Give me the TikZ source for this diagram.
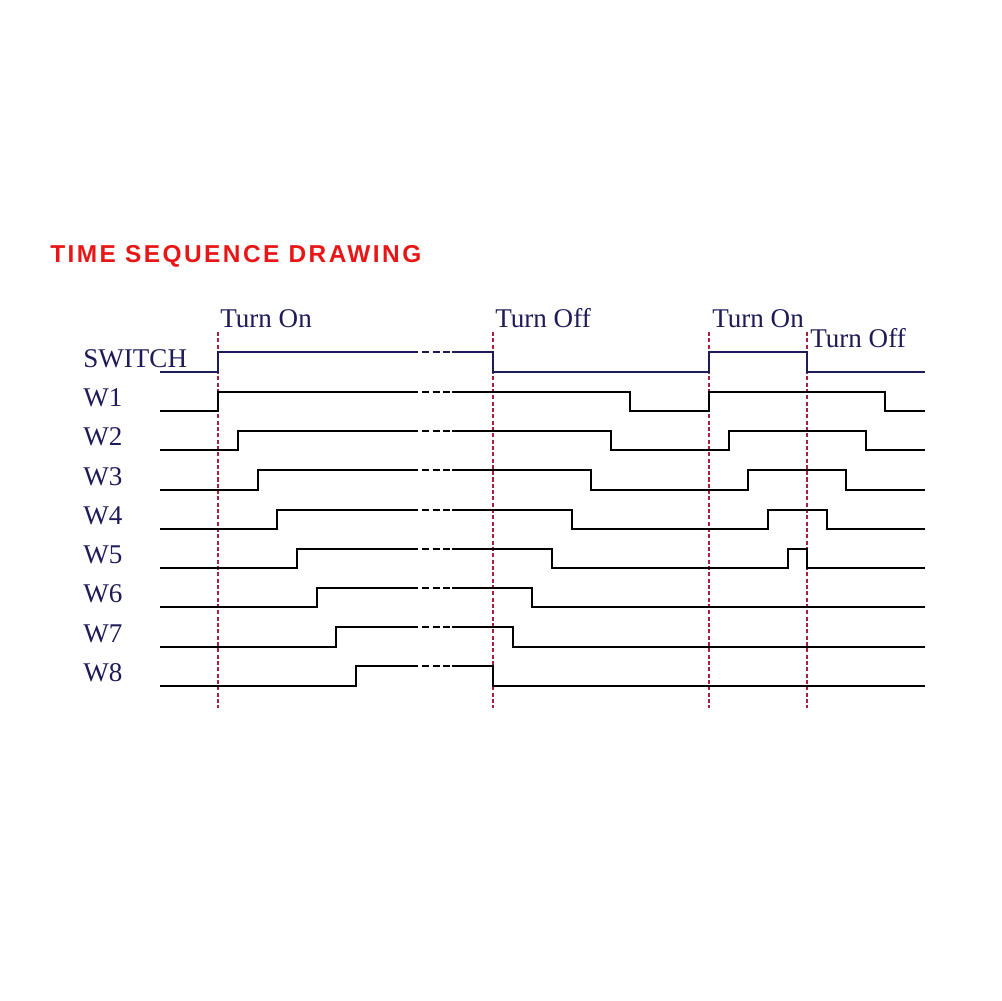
\documentclass[tikz,border=0pt]{standalone}
\usepackage{fontspec}
\setmainfont{Liberation Serif}
\newfontfamily\titlefont[LetterSpace=10]{Liberation Sans}
\definecolor{navy}{RGB}{30,28,88}
\definecolor{markred}{RGB}{168,32,62}
\definecolor{titlered}{RGB}{232,22,22}

\begin{document}
\begin{tikzpicture}[x=0.02cm,y=-0.02cm,
		sig/.style={line width=1.5pt,black},
		swsig/.style={line width=1.5pt,navy},
		gapdash/.style={line width=1.5pt,dash pattern=on 4pt off 2pt},
		marker/.style={line width=1.2pt,markred,dash pattern=on 2.3pt off 1.3pt},
		lbl/.style={anchor=base west,inner sep=0pt,text=navy,font=\fontsize{15.4}{18}\selectfont}]
		\fill[white] (0,0) rectangle (1001,1001);

		\node[anchor=base west,inner sep=0pt,text=titlered,font=\titlefont\bfseries\fontsize{13.9}{16}\selectfont] (title) at (50,262) {TIME SEQUENCE DRAWING};

		% event markers
		\draw[marker] (218,332) -- (218,708);
		\draw[marker] (493,332) -- (493,708);
		\draw[marker] (709,332) -- (709,708);
		\draw[marker] (807,332) -- (807,708);

		\node[lbl] (on1) at (220,327) {Turn On};
		\node[lbl] (off1) at (495,327) {Turn Off};
		\node[lbl] (on2) at (712,327) {Turn On};
		\node[lbl] (off2) at (810,347) {Turn Off};

		\node[lbl] (sw) at (83,367) {SWITCH};
		\node[lbl] (w1) at (83,406) {W1};
		\node[lbl] (w2) at (83,445) {W2};
		\node[lbl] (w3) at (83,485) {W3};
		\node[lbl] (w4) at (83,524) {W4};
		\node[lbl] (w5) at (83,563) {W5};
		\node[lbl] (w6) at (83,602) {W6};
		\node[lbl] (w7) at (83,642) {W7};
		\node[lbl] (w8) at (83,681) {W8};

		% waveforms
		\draw[swsig] (160,372) -- (218,372) -- (218,352) -- (418,352);
		\draw[swsig] (452,352) -- (493,352) -- (493,372) -- (709,372) -- (709,352) -- (807,352) -- (807,372) -- (925,372);

		\draw[sig] (160,411) -- (218,411) -- (218,392) -- (418,392);
		\draw[sig] (452,392) -- (630,392) -- (630,411) -- (709,411) -- (709,392) -- (885,392) -- (885,411) -- (925,411);

		\draw[sig] (160,450) -- (238,450) -- (238,431) -- (418,431);
		\draw[sig] (452,431) -- (611,431) -- (611,450) -- (729,450) -- (729,431) -- (866,431) -- (866,450) -- (925,450);

		\draw[sig] (160,490) -- (258,490) -- (258,470) -- (418,470);
		\draw[sig] (452,470) -- (591,470) -- (591,490) -- (748,490) -- (748,470) -- (846,470) -- (846,490) -- (925,490);

		\draw[sig] (160,529) -- (277,529) -- (277,510) -- (418,510);
		\draw[sig] (452,510) -- (572,510) -- (572,529) -- (768,529) -- (768,510) -- (827,510) -- (827,529) -- (925,529);

		\draw[sig] (160,568) -- (297,568) -- (297,549) -- (418,549);
		\draw[sig] (452,549) -- (552,549) -- (552,568) -- (788,568) -- (788,549) -- (807,549) -- (807,568) -- (925,568);

		\draw[sig] (160,607) -- (317,607) -- (317,588) -- (418,588);
		\draw[sig] (452,588) -- (532,588) -- (532,607) -- (925,607);

		\draw[sig] (160,647) -- (336,647) -- (336,627) -- (418,627);
		\draw[sig] (452,627) -- (513,627) -- (513,647) -- (925,647);

		\draw[sig] (160,686) -- (356,686) -- (356,666) -- (418,666);
		\draw[sig] (452,666) -- (493,666) -- (493,686) -- (925,686);

		% broken stretches
		\draw[gapdash,navy] (422,352) -- (450,352);
		\draw[gapdash] (422,392) -- (450,392);
		\draw[gapdash] (422,431) -- (450,431);
		\draw[gapdash] (422,470) -- (450,470);
		\draw[gapdash] (422,510) -- (450,510);
		\draw[gapdash] (422,549) -- (450,549);
		\draw[gapdash] (422,588) -- (450,588);
		\draw[gapdash] (422,627) -- (450,627);
		\draw[gapdash] (422,666) -- (450,666);
	\end{tikzpicture}
\end{document}
